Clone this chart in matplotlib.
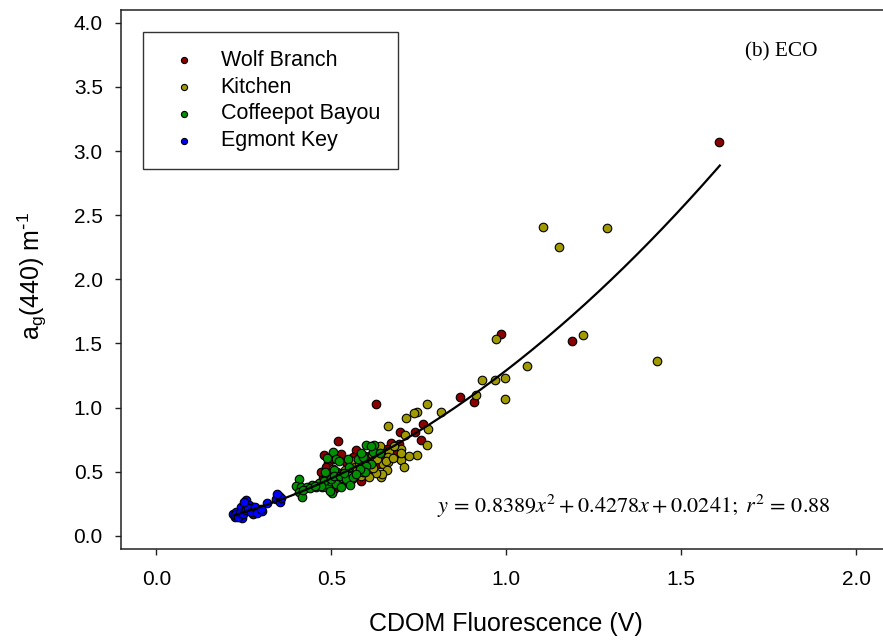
import matplotlib
matplotlib.use("Agg")
import matplotlib.pyplot as plt
import numpy as np

plt.rcParams['font.family'] = ['Liberation Sans', 'DejaVu Sans']

# ---------------- data ----------------
series_names = ["Wolf Branch", "Kitchen", "Coffeepot Bayou", "Egmont Key"]
series_colors = ["#8B0000", "#A09A00", "#009000", "#0000FF"]

wolf_x = [1.609, 1.187, 0.985, 0.867, 0.909, 0.627, 0.696, 0.762, 0.738, 0.756,
          0.520, 0.692, 0.670, 0.479, 0.490, 0.485, 0.541, 0.571, 0.562, 0.584,
          0.603, 0.536, 0.509, 0.647, 0.630, 0.529, 0.486, 0.498, 0.552, 0.617,
          0.660, 0.682, 0.475, 0.560, 0.640, 0.595, 0.515, 0.470, 0.505, 0.545,
          0.578, 0.610]
wolf_y = [3.069, 1.517, 1.575, 1.086, 1.042, 1.026, 0.806, 0.869, 0.812, 0.745,
          0.741, 0.717, 0.726, 0.631, 0.569, 0.535, 0.574, 0.670, 0.613, 0.426,
          0.496, 0.426, 0.366, 0.613, 0.652, 0.639, 0.470, 0.410, 0.500, 0.560,
          0.680, 0.640, 0.455, 0.445, 0.560, 0.620, 0.500, 0.500, 0.600, 0.480,
          0.520, 0.590]

kitchen_x = [1.106, 1.287, 1.151, 1.218, 1.430, 0.971, 1.059, 0.930, 0.969, 0.996,
             0.996, 0.913, 0.813, 0.772, 0.746, 0.735, 0.714, 0.661, 0.711, 0.775,
             0.772, 0.745, 0.698, 0.698, 0.708, 0.722, 0.662, 0.643, 0.700, 0.665,
             0.662, 0.647, 0.659, 0.644, 0.562, 0.538, 0.557, 0.586, 0.629, 0.609,
             0.567, 0.657, 0.640, 0.600, 0.620, 0.580, 0.505, 0.525, 0.680, 0.630,
             0.590, 0.615, 0.675]
kitchen_y = [2.406, 2.399, 2.253, 1.570, 1.364, 1.533, 1.328, 1.216, 1.216, 1.232,
             1.065, 1.099, 0.967, 1.026, 0.969, 0.956, 0.921, 0.860, 0.784, 0.837,
             0.707, 0.627, 0.681, 0.592, 0.538, 0.624, 0.573, 0.461, 0.644, 0.660,
             0.618, 0.561, 0.515, 0.483, 0.587, 0.514, 0.470, 0.470, 0.488, 0.457,
             0.535, 0.587, 0.700, 0.520, 0.530, 0.550, 0.520, 0.450, 0.700, 0.600,
             0.500, 0.640, 0.610]

coffee_x = [0.407, 0.400, 0.414, 0.409, 0.417, 0.446, 0.457, 0.465, 0.472, 0.484,
            0.491, 0.501, 0.495, 0.486, 0.505, 0.514, 0.519, 0.512, 0.488, 0.522,
            0.509, 0.481, 0.478, 0.500, 0.509, 0.524, 0.543, 0.554, 0.562, 0.576,
            0.590, 0.600, 0.622, 0.619, 0.614, 0.598, 0.595, 0.581, 0.571, 0.547,
            0.550, 0.529, 0.496, 0.471, 0.612, 0.640, 0.430, 0.535, 0.420, 0.438,
            0.452, 0.585]
coffee_y = [0.444, 0.392, 0.379, 0.340, 0.301, 0.398, 0.379, 0.410, 0.384, 0.379,
            0.400, 0.338, 0.431, 0.483, 0.652, 0.600, 0.457, 0.405, 0.605, 0.587,
            0.514, 0.496, 0.431, 0.444, 0.470, 0.465, 0.444, 0.400, 0.457, 0.600,
            0.613, 0.710, 0.712, 0.657, 0.561, 0.548, 0.496, 0.522, 0.483, 0.600,
            0.535, 0.379, 0.353, 0.392, 0.700, 0.650, 0.380, 0.490, 0.360, 0.375,
            0.392, 0.650]

egmont_x = [0.219, 0.224, 0.228, 0.236, 0.241, 0.246, 0.243, 0.252, 0.257, 0.265,
            0.267, 0.276, 0.276, 0.284, 0.293, 0.301, 0.317, 0.341, 0.350, 0.352,
            0.357, 0.346, 0.225, 0.232, 0.238, 0.248, 0.255, 0.262, 0.270, 0.282,
            0.287, 0.300, 0.250]
egmont_y = [0.172, 0.145, 0.184, 0.166, 0.197, 0.137, 0.223, 0.249, 0.281, 0.242,
            0.203, 0.172, 0.223, 0.211, 0.197, 0.192, 0.254, 0.288, 0.314, 0.267,
            0.296, 0.327, 0.160, 0.150, 0.180, 0.170, 0.200, 0.215, 0.190, 0.225,
            0.175, 0.210, 0.265]

fit_coef = [0.8389, 0.4278, 0.0241]   # y = a x^2 + b x + c
fit_range = [0.22, 1.61]

x_ticks = [0.0, 0.5, 1.0, 1.5, 2.0]
y_ticks = [0.0, 0.5, 1.0, 1.5, 2.0, 2.5, 3.0, 3.5, 4.0]

# ---------------- figure ----------------
W, H = 883, 642
fig = plt.figure(figsize=(W / 100, H / 100), dpi=100)
ax_l, ax_r, ax_t, ax_b = 121.3, 891.3, 10.0, 548.7
ax = fig.add_axes([ax_l / W, 1 - ax_b / H, (ax_r - ax_l) / W, (ax_b - ax_t) / H])

all_x = [wolf_x, kitchen_x, coffee_x, egmont_x]
all_y = [wolf_y, kitchen_y, coffee_y, egmont_y]
handles = []
for xs, ys, c, n in zip(all_x, all_y, series_colors, series_names):
    h = ax.scatter(xs, ys, s=38, c=c, edgecolors='black', linewidths=0.8,
                   label=n, zorder=3)
    handles.append(h)

xf = np.linspace(fit_range[0], fit_range[1], 300)
yf = np.polyval(fit_coef, xf)
ax.plot(xf, yf, color='black', lw=1.6, zorder=4)

ax.set_xlim(-0.1, 2.1)
ax.set_ylim(-0.1, 4.1)
ax.set_xticks(x_ticks)
ax.set_yticks(y_ticks)
ax.set_xticklabels([f"{v:.1f}" for v in x_ticks])
ax.set_yticklabels([f"{v:.1f}" for v in y_ticks])
ax.tick_params(direction='out', length=4.3, width=1.0, color='#222222',
               labelsize=15, top=False, right=False)
ax.tick_params(axis='x', pad=11)
ax.tick_params(axis='y', pad=9)
for sp in ax.spines.values():
    sp.set_linewidth(1.1)
    sp.set_color('#222222')

ax.set_xlabel('CDOM Fluorescence (V)', fontsize=18, va='center')
ax.xaxis.set_label_coords(0.5, -(624 - ax_b) / (ax_b - ax_t))
ax.set_ylabel(r'a$_\mathregular{g}$(440) m$^{\mathregular{\text{-}1}}$', fontsize=18, va='center')
ax.yaxis.set_label_coords(-(ax_l - 32) / (ax_r - ax_l), (ax_b - 275.5) / (ax_b - ax_t))

leg = ax.legend(handles=handles, loc='upper left',
                bbox_to_anchor=(143.3 / W, 1 - 32 / H), bbox_transform=fig.transFigure,
                borderaxespad=0, fancybox=False, framealpha=1, edgecolor='#333333',
                fontsize=15.5, markerscale=0.72, handlelength=2.1, handletextpad=0.65,
                borderpad=0.84, labelspacing=0.265)
leg.get_frame().set_linewidth(1.0)

fig.text(745 / W, 1 - 51.7 / H, '(b) ECO', family='Liberation Serif', fontsize=15.3,
         ha='left', va='center')
fig.text(437 / W, 1 - 513 / H,
         r'$y\,=\,0.8389x^2+0.4278x+0.0241;\;r^2\,=\,0.88$',
         fontsize=16, math_fontfamily='stix', ha='left', va='baseline')

fig.savefig('out.png', dpi=100)
